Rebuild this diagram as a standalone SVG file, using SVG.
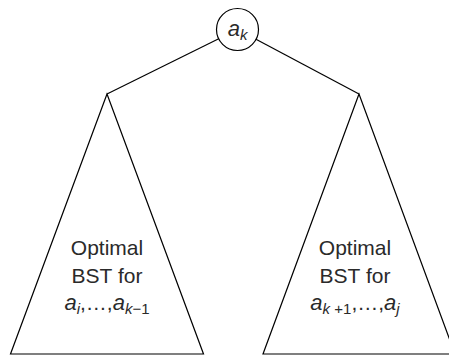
<svg xmlns="http://www.w3.org/2000/svg" width="449" height="357" viewBox="0 0 449 357">
<style>
.ln{fill:none;stroke:#000;stroke-width:1.2;stroke-linejoin:miter}
.nd{fill:#fff;stroke:#000;stroke-width:1.2}
text{font-family:"Liberation Sans",Arial,sans-serif;font-size:21px;fill:#2a2a2a;text-anchor:middle}
.it{font-style:italic;font-size:22px}
.sub{font-style:italic;font-size:15px}
.sr{font-size:15px}
</style>
<rect width="449" height="357" fill="#fff"/>
<g id="connectors">
<line class="ln" x1="218.7" y1="38.8" x2="107" y2="94"/>
<line class="ln" x1="256" y1="39.3" x2="359" y2="94"/>
</g>
<g id="root">
<circle class="nd" cx="237.5" cy="29.5" r="21"/>
<text x="237.5" y="36"><tspan class="it">a</tspan><tspan class="sub" dy="4">k</tspan></text>
</g>
<g id="left-subtree">
<polygon class="ln" points="107,94 10.5,354 203.5,354"/>
<text x="107" y="255">Optimal</text>
<text x="107" y="283">BST for</text>
<text x="107" y="310"><tspan class="it">a</tspan><tspan class="sub" dy="4">i</tspan><tspan dy="-4">,…,</tspan><tspan class="it">a</tspan><tspan class="sub" dy="4">k</tspan><tspan class="sr">−1</tspan></text>
</g>
<g id="right-subtree">
<polygon class="ln" points="359,94 263,354 455,354"/>
<text x="355" y="255">Optimal</text>
<text x="355" y="283">BST for</text>
<text x="355" y="310"><tspan class="it">a</tspan><tspan class="sub" dy="4">k</tspan><tspan class="sr"> +1</tspan><tspan dy="-4">,…,</tspan><tspan class="it">a</tspan><tspan class="sub" dy="4">j</tspan></text>
</g>
</svg>
